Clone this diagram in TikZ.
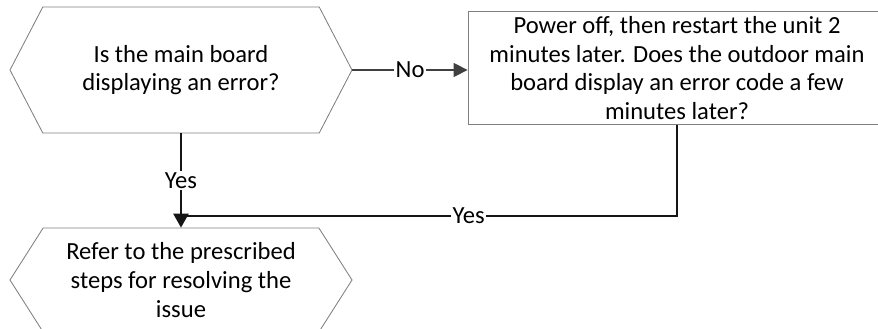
\documentclass[tikz,border=0pt]{standalone}
\usepackage{fontspec}
\setmainfont{Carlito}
\definecolor{fcText}{HTML}{000000}
\definecolor{fcEdge}{HTML}{7F7F7F}
\definecolor{fcLine}{HTML}{404040}
\definecolor{fcDark}{HTML}{151515}
\usetikzlibrary{arrows.meta,shapes.symbols}

\begin{document}
\begin{tikzpicture}[
  every node/.style={font=\fontsize{17.5}{20.5}\selectfont, text=fcText},
  hexbox/.style={signal, signal to=east and west, draw=fcEdge, line width=0.6pt, align=center, inner sep=0pt, minimum width=8.55cm},
  stepbox/.style={rectangle, draw=fcEdge, line width=0.6pt, align=center, minimum width=10.45cm, minimum height=2.75cm},
  link/.style={fcLine, line width=1.1pt},
  yeslink/.style={fcDark, line width=1.1pt},
  lbl/.style={fill=white, inner sep=1pt}
]
  \useasboundingbox (0,0) rectangle (21.95,8.2);
  % decision and steps
  \node[hexbox, signal pointer angle=125, minimum height=3.15cm] (check) at (4.525,6.45) {Is the main board\\displaying an error?};
  \node[stepbox] (restart) at (16.925,6.5) {Power off, then restart the unit 2\\minutes later. Does the outdoor main\\board display an error code a few\\minutes later?};
  \node[hexbox, signal pointer angle=115, minimum height=2.6cm] (resolve) at (4.525,1.2) {Refer to the prescribed\\steps for resolving the\\issue};
  \coordinate (join) at (4.525,2.8);
  % connectors
  \draw[link, -{Triangle[length=10pt,width=10pt]}] (check.east) -- node[lbl] {No} (check.east -| restart.west);
  \draw[yeslink, -{Triangle[length=10pt,width=11pt]}] (check.south) -- node[lbl] {Yes} (resolve.north);
  \draw[yeslink] (restart.south) |- node[lbl, pos=0.71] {Yes} (join);
\end{tikzpicture}
\end{document}
